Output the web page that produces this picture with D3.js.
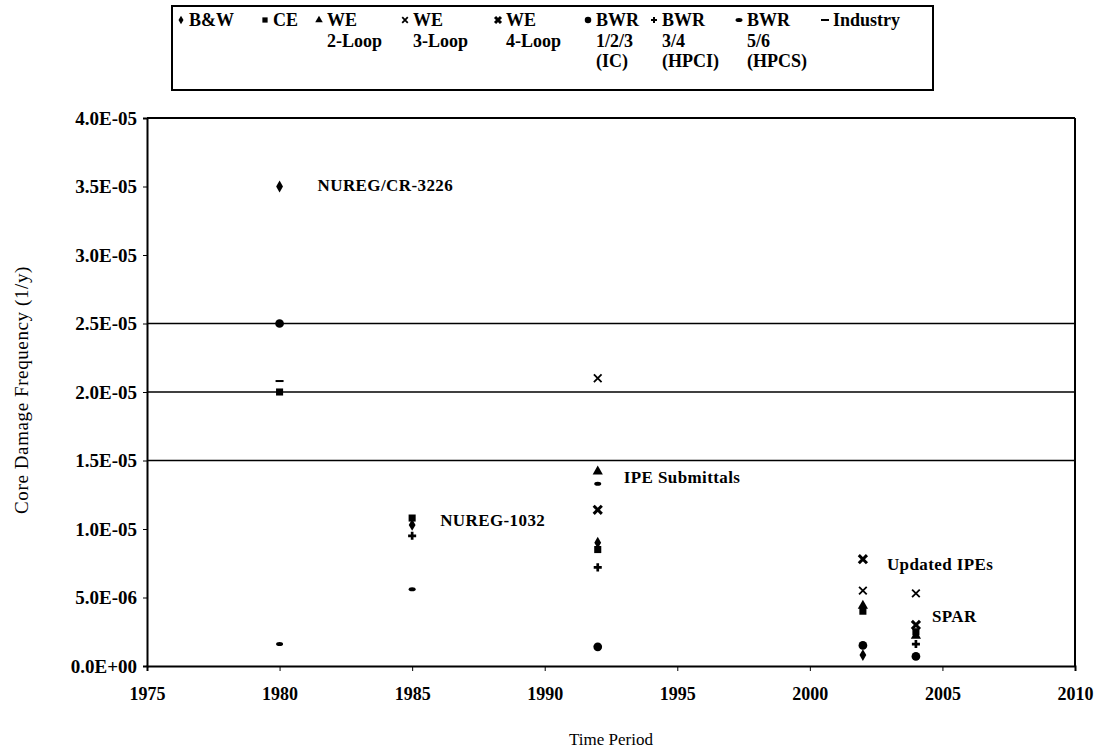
<!DOCTYPE html>
<html>
<head>
<meta charset="utf-8">
<script src="https://cdn.jsdelivr.net/npm/d3@7"></script>
<style>
  body { margin: 0; background: #fff; }
  svg text { font-family: "Liberation Serif", "Times New Roman", serif; fill: #000; }
  .yax .tick text { font-size: 19px; font-weight: bold; }
  .xax .tick text { font-size: 18px; font-weight: bold; }
</style>
</head>
<body>
<svg id="chart" width="1108" height="754"></svg>
<script>
// time periods (x values)
const years = [1980, 1985, 1992, 2002, 2004];

// core damage frequency per plant group, null = no estimate
const bw      = [3.5e-5, 1.03e-5, 9.0e-6, 8.0e-7, null];
const ce      = [2.0e-5, 1.08e-5, 8.5e-6, 4.0e-6, 2.5e-6];
const we2     = [null, null, 1.42e-5, 4.4e-6, 2.2e-6];
const we3     = [null, null, 2.1e-5, 5.5e-6, 5.3e-6];
const we4     = [null, null, 1.14e-5, 7.8e-6, 3.0e-6];
const bwr123  = [2.5e-5, null, 1.4e-6, 1.5e-6, 7.0e-7];
const bwr34   = [null, 9.5e-6, 7.2e-6, null, 1.6e-6];
const bwr56   = [1.6e-6, 5.6e-6, 1.33e-5, null, null];
const industry = [2.08e-5, null, null, null, null];

const seriesNames = [["B&W"], ["CE"], ["WE", "2-Loop"], ["WE", "3-Loop"], ["WE", "4-Loop"],
  ["BWR", "1/2/3", "(IC)"], ["BWR", "3/4", "(HPCI)"], ["BWR", "5/6", "(HPCS)"], ["Industry"]];
const seriesValues = [bw, ce, we2, we3, we4, bwr123, bwr34, bwr56, industry];
const markerTypes = ["diamond", "square", "triangle", "x", "xbold", "circle", "plus", "dot", "dash"];

// horizontal reference levels
const refLevels = [1.5e-5, 2.0e-5, 2.5e-5];

const yTicks = [0, 5e-6, 1e-5, 1.5e-5, 2e-5, 2.5e-5, 3e-5, 3.5e-5, 4e-5];
const yTickLabels = ["0.0E+00", "5.0E-06", "1.0E-05", "1.5E-05", "2.0E-05", "2.5E-05", "3.0E-05", "3.5E-05", "4.0E-05"];
const xTicks = [1975, 1980, 1985, 1990, 1995, 2000, 2005, 2010];

const annotations = [
  {text: "NUREG/CR-3226", year: 1980, value: 3.5e-5, dx: 38, dy: 4},
  {text: "NUREG-1032", year: 1985, value: 1.05e-5, dx: 28, dy: 4},
  {text: "IPE Submittals", year: 1992, value: 1.37e-5, dx: 26, dy: 5},
  {text: "Updated IPEs", year: 2002, value: 7.4e-6, dx: 24, dy: 5},
  {text: "SPAR", year: 2004, value: 3.6e-6, dx: 16, dy: 5}
];

const margin = {top: 118, right: 33, bottom: 88, left: 147};
const width = 1108 - margin.left - margin.right;
const height = 754 - margin.top - margin.bottom;

const svg = d3.select("#chart");
const g = svg.append("g")
  .attr("transform", "translate(" + margin.left + "," + margin.top + ")");

const x = d3.scaleLinear().domain([1975, 2010]).range([0, width]);
const y = d3.scaleLinear().domain([0, 4e-5]).range([height, 0]);

// reference lines
g.selectAll("line.ref")
  .data(refLevels)
  .enter().append("line")
  .attr("class", "ref")
  .attr("x1", 0).attr("x2", width)
  .attr("y1", d => y(d)).attr("y2", d => y(d))
  .attr("stroke", "#000").attr("stroke-width", 1.6);

// axes
const yAxis = g.append("g")
  .attr("class", "yax")
  .call(d3.axisLeft(y).tickValues(yTicks).tickSize(4).tickPadding(6)
    .tickFormat((d, i) => yTickLabels[i]));
yAxis.select(".domain").attr("stroke-width", 2);

const xAxis = g.append("g")
  .attr("class", "xax")
  .attr("transform", "translate(0," + height + ")")
  .call(d3.axisBottom(x).tickValues(xTicks).tickSize(5).tickPadding(16)
    .tickFormat(d3.format("d")));
xAxis.select(".domain").attr("stroke-width", 2);

// frame top and right
g.append("line").attr("x1", 0).attr("x2", width).attr("y1", 0).attr("y2", 0)
  .attr("stroke", "#000").attr("stroke-width", 2);
g.append("line").attr("x1", width).attr("x2", width).attr("y1", 0).attr("y2", height)
  .attr("stroke", "#000").attr("stroke-width", 2);

// axis titles
svg.append("text")
  .attr("x", margin.left + width / 2).attr("y", 745)
  .attr("text-anchor", "middle").style("font-size", "17px")
  .text("Time Period");
svg.append("text")
  .attr("transform", "translate(28," + (margin.top + height / 2 - 2) + ") rotate(-90)")
  .attr("text-anchor", "middle").style("font-size", "19px")
  .style("letter-spacing", "0.6px")
  .text("Core Damage Frequency (1/y)");

// marker drawing
function drawMarker(sel, type, size) {
  const s = size || 1;
  if (type === "diamond") {
    sel.append("path").attr("d", d3.symbol(d3.symbolDiamond, 40 * s)()).attr("fill", "#000");
  } else if (type === "square") {
    sel.append("path").attr("d", d3.symbol(d3.symbolSquare, 50 * s)()).attr("fill", "#000");
  } else if (type === "triangle") {
    sel.append("path").attr("d", d3.symbol(d3.symbolTriangle, 45 * s)()).attr("fill", "#000");
  } else if (type === "x") {
    sel.append("path").attr("d", d3.symbol(d3.symbolTimes, 40 * s)())
      .attr("fill", "none").attr("stroke", "#000").attr("stroke-width", 1.8);
  } else if (type === "xbold") {
    sel.append("path").attr("d", d3.symbol(d3.symbolTimes, 45 * s)())
      .attr("fill", "none").attr("stroke", "#000").attr("stroke-width", 3);
  } else if (type === "circle") {
    sel.append("path").attr("d", d3.symbol(d3.symbolCircle, 60 * s)()).attr("fill", "#000");
  } else if (type === "plus") {
    sel.append("path").attr("d", d3.symbol(d3.symbolCross, 36 * s)()).attr("fill", "#000");
  } else if (type === "dot") {
    sel.append("ellipse").attr("rx", 3.5).attr("ry", 2).attr("fill", "#000");
  } else if (type === "dash") {
    sel.append("rect").attr("x", -4).attr("y", -1).attr("width", 8).attr("height", 2).attr("fill", "#000");
  }
}

// points
seriesValues.forEach((vals, si) => {
  const pts = years.map((yr, i) => ({year: yr, value: vals[i]})).filter(d => d.value !== null);
  g.selectAll(null)
    .data(pts)
    .enter().append("g")
    .attr("transform", d => "translate(" + x(d.year) + "," + y(d.value) + ")")
    .each(function() { drawMarker(d3.select(this), markerTypes[si]); });
});

// annotations
g.selectAll("text.note")
  .data(annotations)
  .enter().append("text")
  .attr("class", "note")
  .attr("x", d => x(d.year) + d.dx)
  .attr("y", d => y(d.value) + d.dy)
  .style("font-size", "17px").style("font-weight", "bold")
  .style("letter-spacing", "0.4px")
  .text(d => d.text);

// legend
const legX = [176, 260, 314, 400, 493, 583, 649, 734, 820];
const legend = svg.append("g");
legend.append("rect")
  .attr("x", 172).attr("y", 6).attr("width", 761).attr("height", 84)
  .attr("fill", "none").attr("stroke", "#000").attr("stroke-width", 2);
seriesNames.forEach((lines, i) => {
  const item = legend.append("g").attr("transform", "translate(" + legX[i] + ",0)");
  const m = item.append("g").attr("transform", "translate(5,20)");
  drawMarker(m, markerTypes[i], 0.55);
  lines.forEach((t, j) => {
    item.append("text")
      .attr("x", 13).attr("y", 26 + j * 20.5)
      .style("font-size", "18px").style("font-weight", "bold")
      .text(t);
  });
});
</script>
</body>
</html>
